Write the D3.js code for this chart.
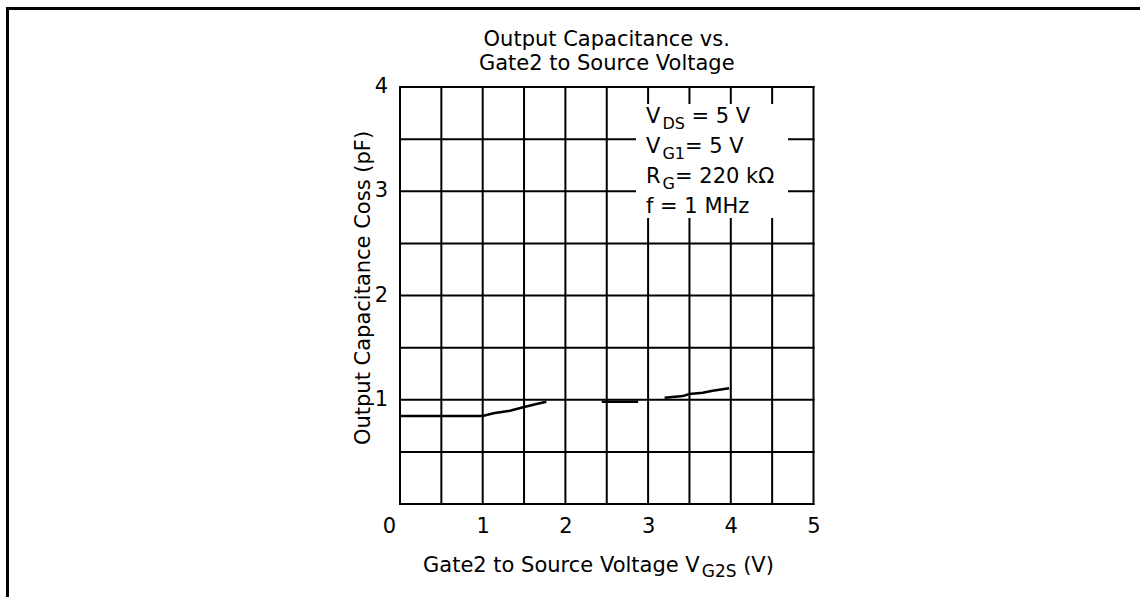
<!DOCTYPE html>
<html>
<head>
<meta charset="utf-8">
<script src="https://cdn.jsdelivr.net/npm/d3@7/dist/d3.min.js"></script>
<style>
  html, body { margin: 0; padding: 0; background: #fff; }
  svg { display: block; }
  text { font-family: "DejaVu Sans", "Liberation Sans", Arial, sans-serif; fill: #000; }
</style>
</head>
<body>
<svg id="chart" width="1140" height="597"></svg>
<script>
// ---- data ----
const titleLines = ["Output Capacitance vs.", "Gate2 to Source Voltage"];
const xTickValues = [0, 1, 2, 3, 4, 5];
const yTickValues = [1, 2, 3, 4];
const xGridValues = [0, 0.5, 1, 1.5, 2, 2.5, 3, 3.5, 4, 4.5, 5];
const yGridValues = [0, 0.5, 1, 1.5, 2, 2.5, 3, 3.5, 4];
// curve (null = gap in the printed trace)
const vg2s = [0, 1.0, 1.13, 1.33, 1.49, 1.65, 1.77, null, 2.44, 2.88, null, 3.20, 3.42, 3.50, 3.66, 3.78, 3.98];
const coss = [0.845, 0.845, 0.87, 0.895, 0.928, 0.96, 0.98, null, 0.98, 0.98, null, 1.02, 1.035, 1.055, 1.068, 1.087, 1.11];
const legendMain = ["V", "V", "R", "f = 1 MHz"];
const legendSub = ["DS", "G1", "G", ""];
const legendRest = [" = 5 V", "= 5 V", "= 220 kΩ", ""];

// ---- layout ----
const svg = d3.select("#chart");
const x = d3.scaleLinear().domain([0, 5]).range([400, 813.5]);
const y = d3.scaleLinear().domain([0, 4]).range([504, 87]);

// page border (top + left)
svg.append("path")
  .attr("d", "M7.5,597 L7.5,8.5 L1140,8.5")
  .attr("fill", "none").attr("stroke", "#000").attr("stroke-width", 3);

// grid
const grid = svg.append("g").attr("stroke", "#000").attr("stroke-width", 2);
grid.selectAll("line.v").data(xGridValues).join("line")
  .attr("class", "v")
  .attr("x1", d => x(d)).attr("x2", d => x(d))
  .attr("y1", y(0) + 1).attr("y2", y(4) - 1);
grid.selectAll("line.h").data(yGridValues).join("line")
  .attr("class", "h")
  .attr("y1", d => y(d)).attr("y2", d => y(d))
  .attr("x1", x(0) - 1).attr("x2", x(5) + 1);

// legend box (white knock-out)
svg.append("rect")
  .attr("x", 636).attr("y", 104).attr("width", 152).attr("height", 114)
  .attr("fill", "#fff");

const legend = svg.append("g");
legendMain.forEach((m, i) => {
  const t = legend.append("text")
    .attr("x", 646).attr("y", 123 + i * 30)
    .attr("font-size", 21);
  t.append("tspan").text(m);
  if (legendSub[i]) {
    t.append("tspan").attr("font-size", 16).attr("dy", 6).attr("dx", 2).text(legendSub[i]);
    t.append("tspan").attr("dy", -6).text(legendRest[i]);
  }
});

// curve
const pts = vg2s.map((v, i) => [v, coss[i]]);
const line = d3.line()
  .defined(d => d[0] !== null && d[1] !== null)
  .x(d => x(d[0])).y(d => y(d[1]));
svg.append("path")
  .datum(pts)
  .attr("d", line)
  .attr("fill", "none").attr("stroke", "#000").attr("stroke-width", 2.5);

// axes (labels only)
const yAxis = svg.append("g")
  .attr("transform", `translate(${x(0)},0)`)
  .call(d3.axisLeft(y).tickValues(yTickValues).tickSize(0).tickPadding(12).tickFormat(d3.format("d")));
yAxis.select(".domain").remove();
yAxis.selectAll("text").attr("font-size", 21).attr("font-family", null).attr("dy", "0.27em");

const xAxis = svg.append("g")
  .attr("transform", `translate(0,${y(0)})`)
  .call(d3.axisBottom(x).tickValues(xTickValues).tickSize(0).tickPadding(14).tickFormat(d3.format("d")));
xAxis.select(".domain").remove();
xAxis.selectAll("text").attr("font-size", 21).attr("font-family", null);
xAxis.selectAll(".tick").filter(d => d === 0).select("text").attr("x", -11);

// title
svg.selectAll("text.title").data(titleLines).join("text")
  .attr("class", "title")
  .attr("x", (x(0) + x(5)) / 2)
  .attr("y", (d, i) => 46 + i * 24)
  .attr("text-anchor", "middle")
  .attr("font-size", 21)
  .text(d => d);

// y axis title
svg.append("text")
  .attr("transform", `translate(370,288) rotate(-90)`)
  .attr("text-anchor", "middle")
  .attr("font-size", 21)
  .text("Output Capacitance Coss (pF)");

// x axis title
const xt = svg.append("text")
  .attr("x", 423).attr("y", 572)
  .attr("font-size", 21);
xt.append("tspan").text("Gate2 to Source Voltage V");
xt.append("tspan").attr("font-size", 17).attr("dy", 5).attr("dx", 2).text("G2S");
xt.append("tspan").attr("dy", -5).text(" (V)");
</script>
</body>
</html>
